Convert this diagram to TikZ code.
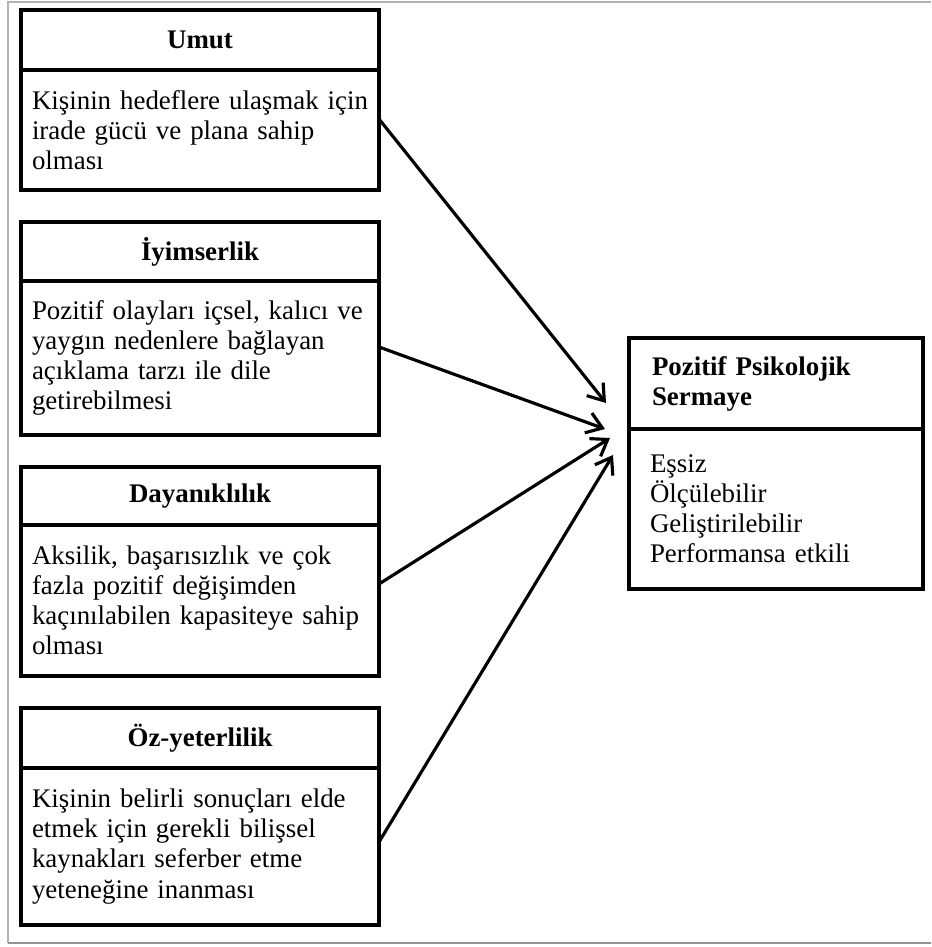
\documentclass[tikz,border=0pt]{standalone}
\usepackage{fontspec}
\setmainfont{Liberation Serif}
\usetikzlibrary{arrows.meta, positioning}

\newcommand{\boxfont}{\fontsize{15.3pt}{17.1pt}\selectfont}
\tikzset{
  headbox/.style={draw, line width=2.2pt, outer sep=0pt, minimum width=7.16cm, minimum height=1.2cm,
    inner xsep=0.22cm, text width=6.72cm, align=center, font=\boxfont\bfseries},
  bodybox/.style={draw, line width=2.2pt, outer sep=0pt, minimum width=7.16cm,
    inner xsep=0.22cm, text width=6.72cm, align=left, font=\boxfont},
  psyhead/.style={draw, line width=2.2pt, outer sep=0pt, minimum width=5.88cm, minimum height=1.82cm,
    inner xsep=0.46cm, text width=4.96cm, align=left, font=\boxfont\bfseries},
  psybody/.style={draw, line width=2.2pt, outer sep=0pt, minimum width=5.88cm, minimum height=3.2cm,
    inner xsep=0.42cm, text width=5.04cm, align=left, font=\boxfont},
  link/.style={-{Straight Barb[length=0.3cm, width=0.42cm]}, line width=1.8pt}
}

\begin{document}
\begin{tikzpicture}[x=1cm, y=1cm]
  \useasboundingbox (0,0) rectangle (18.62,-18.94);
  % frame
  \draw[gray!60, line width=0.8pt] (18.62,-0.04) -- (0.16,-0.04) -- (0.16,-18.86);
  \draw[gray!85, line width=1.1pt] (0.16,-18.86) -- (18.62,-18.86);

  % left boxes
  \node[headbox, anchor=north west] (umut) at (0.42,-0.2) {Umut};
  \node[bodybox, minimum height=2.4cm, below=0pt of umut] (umutbody) {Kişinin hedeflere ulaşmak için\\ irade gücü ve plana sahip\\ olması};

  \node[headbox, minimum height=1.18cm, anchor=north west] (iyim) at (0.42,-4.44) {İyimserlik};
  \node[bodybox, minimum height=3.08cm, below=0pt of iyim] (iyimbody) {Pozitif olayları içsel, kalıcı ve\\ yaygın nedenlere bağlayan\\ açıklama tarzı ile dile\\ getirebilmesi};

  \node[headbox, minimum height=1.16cm, anchor=north west] (dayan) at (0.42,-9.34) {Dayanıklılık};
  \node[bodybox, minimum height=3.02cm, below=0pt of dayan] (dayanbody) {Aksilik, başarısızlık ve çok\\ fazla pozitif değişimden\\ kaçınılabilen kapasiteye sahip\\ olması};

  \node[headbox, anchor=north west] (ozyet) at (0.42,-14.16) {Öz-yeterlilik};
  \node[bodybox, minimum height=3.14cm, below=0pt of ozyet] (ozyetbody) {Kişinin belirli sonuçları elde\\ etmek için gerekli bilişsel\\ kaynakları seferber etme\\ yeteneğine inanması};

  % right box
  \node[psyhead, anchor=north west] (psy) at (12.58,-6.76) {Pozitif Psikolojik\\ Sermaye};
  \node[psybody, below=0pt of psy] (psybody) {Eşsiz\\ Ölçülebilir\\ Geliştirilebilir\\ Performansa etkili};

  % arrow tips
  \coordinate (t1) at ([shift={(-0.46,0.52)}]psy.south west);
  \coordinate (t2) at ([shift={(-0.48,0)}]psy.south west);
  \coordinate (t3) at ([shift={(-0.38,-0.18)}]psy.south west);
  \coordinate (t4) at ([shift={(-0.32,-0.52)}]psy.south west);

  \draw[link] ([yshift=0.22cm]umutbody.east) -- (t1);
  \draw[link] ([yshift=0.22cm]iyimbody.east) -- (t2);
  \draw[link] ([yshift=0.33cm]dayanbody.east) -- (t3);
  \draw[link] ([yshift=0.09cm]ozyetbody.east) -- (t4);
\end{tikzpicture}
\end{document}
